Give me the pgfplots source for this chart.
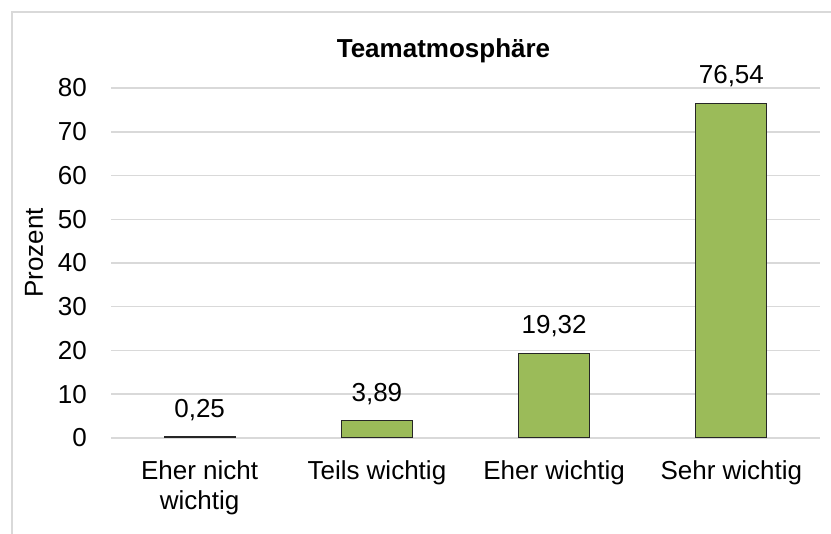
\documentclass[border=0pt]{standalone}
\usepackage{pgfplots}
\pgfplotsset{compat=1.18}
\usepackage{fontspec}
\setmainfont{Liberation Sans}
\definecolor{barfill}{HTML}{9BBB59}
\definecolor{gridc}{HTML}{D9D9D9}
\newcommand{\lblfont}{\fontsize{26bp}{30bp}\selectfont}
\begin{document}
\begin{tikzpicture}
\useasboundingbox (0bp,0bp) rectangle (831bp,534bp);
\draw[gridc, line width=1.8bp] (12bp,-10bp) -- (12bp,522bp) -- (845bp,522bp);
\node[font=\lblfont\bfseries, anchor=base] at (443.5bp,476bp) {Teamatmosphäre};
\node[font=\lblfont, rotate=90] at (34bp,281bp) {Prozent};
\begin{axis}[
  at={(111bp,96bp)}, anchor=south west,
  scale only axis, width=709bp, height=350bp,
  xmin=-0.5, xmax=3.5, ymin=0, ymax=80,
  ytick={0,10,...,80},
  xtick={0,1,2,3},
  xticklabels={{Eher nicht\\wichtig},{Teils wichtig},{Eher wichtig},{Sehr wichtig}},
  /pgf/number format/assume math mode=true,
  axis line style={draw=none},
  major tick length=0pt,
  ymajorgrids, grid style={gridc, line width=1.5bp},
  tick label style={font=\lblfont},
  yticklabel style={anchor=east, inner sep=0pt, xshift=-24bp},
  xticklabel style={anchor=north, inner sep=0pt, align=center, yshift=-22bp},
  ybar, bar width=0.4,
  nodes near coords,
  nodes near coords style={font=\lblfont, anchor=south, inner sep=0pt, yshift=16bp,
    /pgf/number format/.cd, use comma, fixed, fixed zerofill, precision=2, assume math mode=true},
  clip=false,
]
\addplot[fill=barfill, draw=black!85, line width=1bp] coordinates {(0,0.25) (1,3.89) (2,19.32) (3,76.54)};
\end{axis}
\end{tikzpicture}
\end{document}
